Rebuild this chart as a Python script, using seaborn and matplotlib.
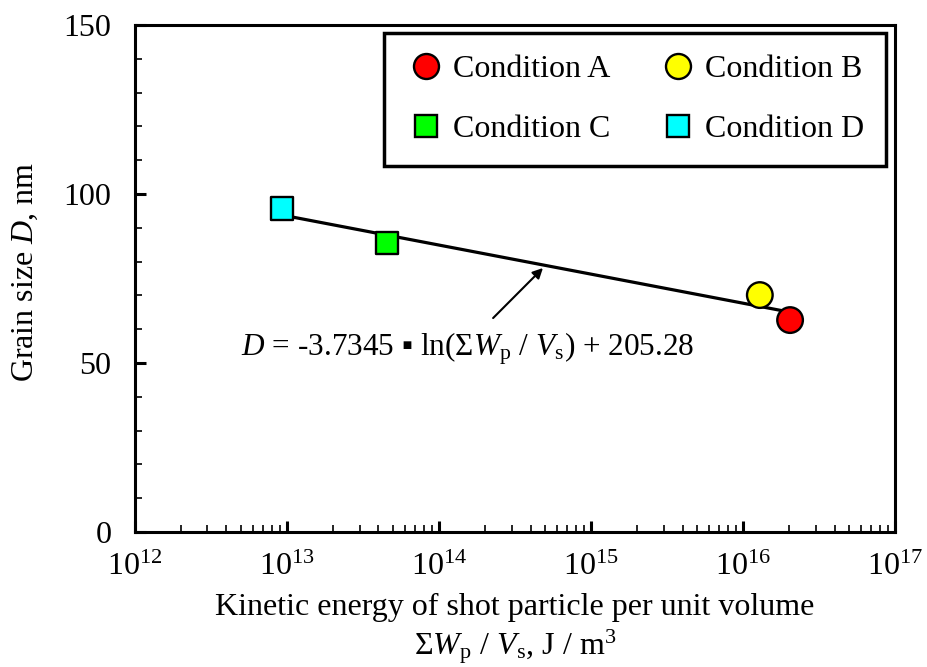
import numpy as np
import pandas as pd
import matplotlib
matplotlib.use("Agg")
import matplotlib.pyplot as plt
import seaborn as sns
from matplotlib.ticker import LogLocator, MultipleLocator, NullFormatter, FixedLocator
from matplotlib.lines import Line2D

# ---- data ----
conditions = ["Condition A", "Condition B", "Condition C", "Condition D"]
energy = [2.04e16, 1.29e16, 4.55e13, 9.27e12]
grain_size = [62.7, 70.1, 85.5, 95.6]
colors = ["#ff0000", "#ffff00", "#00ff00", "#00ffff"]
markers = ["o", "o", "s", "s"]
fit_slope = -3.7345
fit_intercept = 205.28
x_ticks = [1e12, 1e13, 1e14, 1e15, 1e16, 1e17]
x_ticklabels = ["$10^{12}$", "$10^{13}$", "$10^{14}$", "$10^{15}$", "$10^{16}$", "$10^{17}$"]
y_ticks = [0, 50, 100, 150]

sns.set_theme(style="ticks")
plt.rcParams["font.family"] = ["Liberation Serif", "DejaVu Serif"]
plt.rcParams["mathtext.fontset"] = "custom"
plt.rcParams["mathtext.rm"] = "Liberation Serif"
plt.rcParams["mathtext.it"] = "Liberation Serif:italic"
plt.rcParams["mathtext.bf"] = "Liberation Serif:bold"
for k in ["text.color", "axes.labelcolor", "xtick.color", "ytick.color", "axes.edgecolor"]:
    plt.rcParams[k] = "black"

FS = 23

fig, ax = plt.subplots(figsize=(9.27, 6.67), dpi=100)
fig.subplots_adjust(left=0.1456, right=0.9655, top=0.9625, bottom=0.2024)

df = pd.DataFrame({"cond": conditions, "x": energy, "y": grain_size})

# fit line
xs = np.logspace(np.log10(min(energy)), np.log10(max(energy)), 100)
fit_df = pd.DataFrame({"x": xs, "y": fit_slope * np.log(xs) + fit_intercept})
sns.lineplot(data=fit_df, x="x", y="y", color="black", lw=2.3, ax=ax, zorder=2)

sns.scatterplot(data=df, x="x", y="y", hue="cond", style="cond", size="cond",
                palette=dict(zip(conditions, colors)),
                markers=dict(zip(conditions, markers)),
                sizes={"Condition A": 340, "Condition B": 340,
                       "Condition C": 270, "Condition D": 270},
                edgecolor="black", linewidth=1.7, ax=ax, zorder=3, legend=False)

ax.set_xscale("log")
ax.set_xlim(1e12, 1e17)
ax.set_ylim(0, 150)

ax.xaxis.set_major_locator(FixedLocator(x_ticks))
ax.set_xticklabels(x_ticklabels)
ax.xaxis.set_minor_locator(LogLocator(base=10, subs=np.arange(2, 10), numticks=50))
ax.xaxis.set_minor_formatter(NullFormatter())
ax.set_yticks(y_ticks)
ax.yaxis.set_minor_locator(MultipleLocator(10))

ax.tick_params(which="major", direction="in", length=8, width=2.2, labelsize=FS, color="black")
ax.tick_params(which="minor", direction="in", length=5, width=1.2, color="black")
ax.tick_params(axis="y", which="major", pad=17)
ax.tick_params(axis="x", which="major", pad=15)
for s in ax.spines.values():
    s.set_linewidth(2.2)
    s.set_color("black")
    s.set_visible(True)

ax.set_xlabel("Kinetic energy of shot particle per unit volume\n"
              "Σ$W$$_\\mathrm{p}$ / $V$$_\\mathrm{s}$, J / m$^3$",
              fontsize=FS, labelpad=8, linespacing=1.2)
ax.set_ylabel("Grain size $D$, nm", fontsize=FS)
ax.yaxis.set_label_coords(-0.125, 0.513)

# annotation
ax.annotate("", xy=(4.83e14, 78.1), xytext=(2.27e14, 63.3),
            arrowprops=dict(arrowstyle="-|>", color="black", lw=1.5,
                            shrinkA=0, shrinkB=0, mutation_scale=15))
ax.text(1.55e14, 54.3, "$D$ = -3.7345 ▪ ln(Σ$W$$_\\mathrm{p}$ / $V$$_\\mathrm{s}$) + 205.28",
        ha="center", va="center", fontsize=22.5)

handles = [Line2D([], [], marker=m, color="none", markerfacecolor=c, markeredgecolor="black",
                  markeredgewidth=1.7, markersize=(18 if m == "o" else 16), linestyle="none")
           for m, c in zip(markers, colors)]
order = [0, 2, 1, 3]
leg = ax.legend([handles[i] for i in order], [conditions[i] for i in order], ncol=2,
                loc="upper right",
                bbox_to_anchor=(0.988, 0.984), fontsize=FS, frameon=True, fancybox=False,
                handletextpad=0.2, columnspacing=1.45, labelspacing=0.95,
                borderpad=0.68, handlelength=1.3, borderaxespad=0)
leg.get_frame().set_edgecolor("black")
leg.get_frame().set_linewidth(2.5)
leg.get_frame().set_facecolor("white")
leg.get_frame().set_alpha(1)

fig.savefig("out.png", dpi=100)
